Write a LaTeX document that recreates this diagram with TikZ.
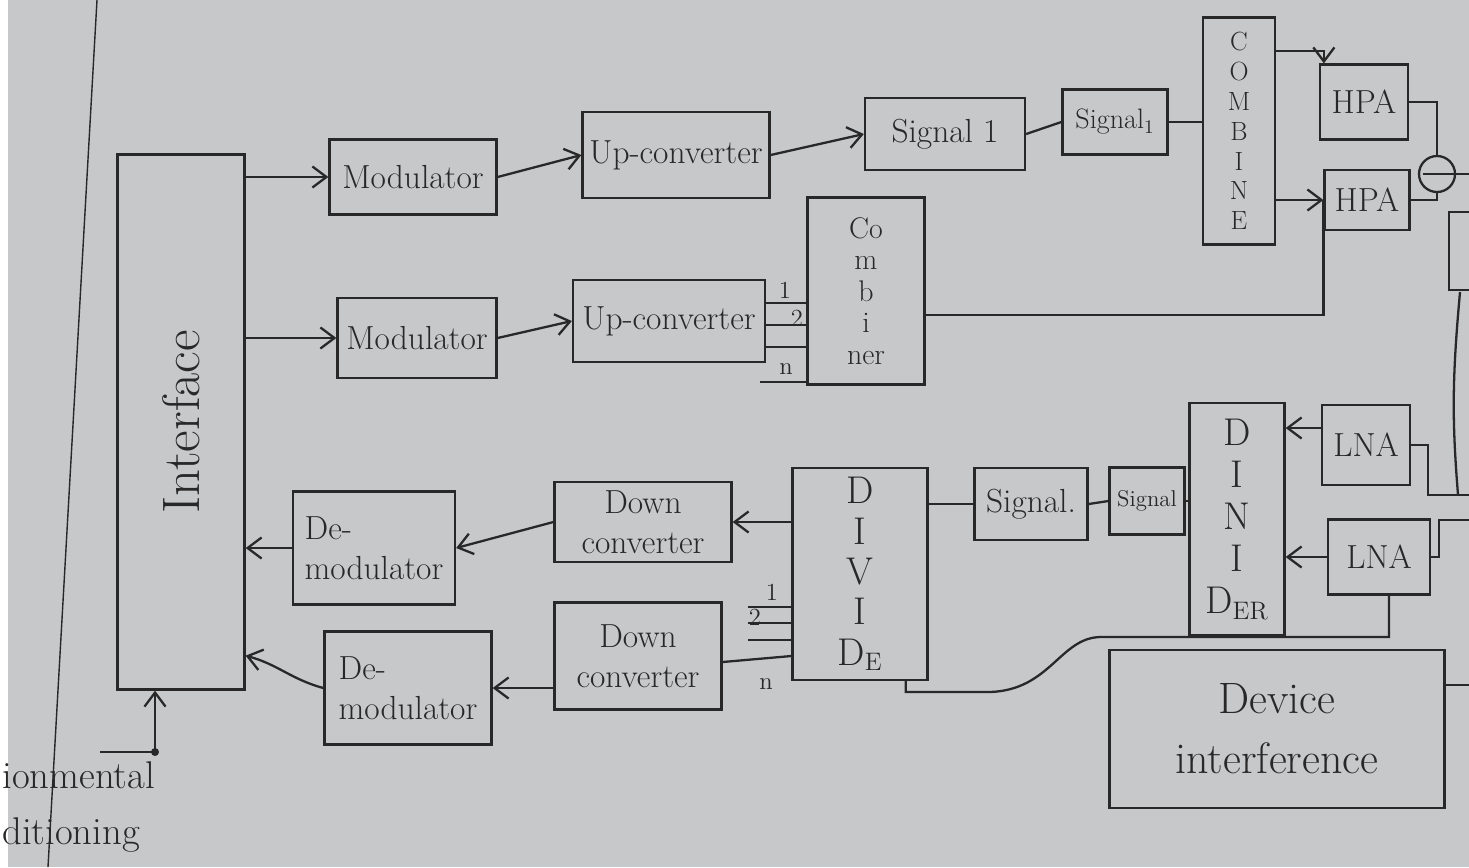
\documentclass[tikz,border=0pt]{standalone}
\usetikzlibrary{arrows.meta,positioning}
\definecolor{paper}{RGB}{199,200,202}
\definecolor{ink}{RGB}{40,40,40}
\tikzset{
  blk/.style={draw=ink,line width=1.3pt,inner sep=1pt,align=center,text=ink,font=\fontsize{19}{23}\selectfont},
  sz/.style 2 args={minimum width=#1*0.02cm,minimum height=#2*0.02cm},
  wire/.style={draw=ink,line width=1.3pt},
  arr/.style={wire,-{Straight Barb[length=8pt,width=12pt]}},
  tag/.style={text=ink,font=\fontsize{14}{16}\selectfont,inner sep=0pt},
}
\begin{document}
\begin{tikzpicture}[x=0.02cm,y=-0.02cm]
  \clip (0,0) rectangle (1469,867);
  \fill[paper] (0,0) rectangle (1469,867);
  \fill[white] (0,0) rectangle (8,867);
  \draw[ink,line width=0.8pt] (97,0) -- (48,867);

  % transmit side
  \node[blk,sz={127}{535}] (iface) at (181,422) {};
  \node[text=ink,rotate=90,font=\fontsize{30}{34}\selectfont] (ifacetxt) at (iface.center) {Interface};
  \node[blk,sz={167}{75}] (mod1) at (413,177) {Modulator};
  \node[blk,sz={187}{86}] (up1) at (676,155) {Up-converter};
  \node[blk,sz={160}{72}] (sig1) at (945,134) {Signal 1};
  \node[blk,sz={105}{65},font=\fontsize{16}{18}\selectfont] (sig1b) at (1115,122) {Signal$_1$};
  \node[blk,sz={72}{227},font=\fontsize{15}{17}\selectfont] (comb) at (1239,131) {C\\O\\M\\B\\I\\N\\E};
  \node[blk,sz={88}{75}] (hpa1) at (1364,102) {HPA};
  \node[blk,sz={85}{60}] (hpa2) at (1367,200) {HPA};
  \node[draw=ink,line width=1.3pt,circle,minimum size=36*0.02cm,inner sep=0pt] (circ) at (1437,174) {};
  \node[blk,sz={159}{80}] (mod2) at (417,338) {Modulator};
  \node[blk,sz={192}{82}] (up2) at (669,321) {Up-converter};
  \node[blk,sz={117}{187},font=\fontsize{17}{18}\selectfont] (combr) at (866,291) {Co\\m\\b\\i\\ner};

  \draw[arr] (mod1.west -| iface.east) -- (mod1.west);
  \draw[arr] (mod1.east) -- (up1.west);
  \draw[arr] (up1.east) -- (sig1.west);
  \draw[wire] (sig1.east) -- (sig1b.west);
  \draw[wire] (sig1b.east) -- (sig1b.east -| comb.west);
  \draw[arr] ([yshift=-0.69cm]comb.north east) -| ([xshift=0.1cm]hpa1.north west);
  \draw[arr] (hpa2.west -| comb.east) -- (hpa2.west);
  \draw[wire] ([yshift=-0.48cm]combr.east) -| (hpa2.west);
  \draw[wire] (hpa1.east) -| (circ.north);
  \draw[wire] (hpa2.east) -| (circ.south);
  \draw[wire] ([xshift=0.1cm]circ.west) -- ++(50,0);
  \draw[arr] (mod2.west -| iface.east) -- (mod2.west);
  \draw[arr] (mod2.east) -- (up2.west);
  \foreach \yy in {303,325,347}
    \draw[wire] (up2.east |- 0,\yy) -- (combr.west |- 0,\yy);
  \coordinate (nup) at (760,382);
  \draw[wire] (nup) -- (nup -| combr.west);
  \node[tag] (upa) at (785,290) {1};
  \node[tag] (upb) at (797,318) {2};
  \node[tag] (upn) at (786,369) {n};

  % off-page parts on the right
  \draw[wire] (1480,212) -- (1449,212) -- (1449,290) -- (1480,290);
  \draw[wire] (1460,292) .. controls (1452,380) and (1452,420) .. (1458,495);

  % receive side
  \node[blk,sz={135}{212},font=\fontsize{22}{23}\selectfont] (div) at (860,574) {D\\I\\V\\I\\D$_{\mathrm{E}}$};
  \node[blk,sz={177}{80}] (down1) at (643,522) {Down\\converter};
  \node[blk,sz={162}{113},align=left] (demod1) at (374,548) {De-\\modulator};
  \node[blk,sz={167}{107}] (down2) at (638,656) {Down\\converter};
  \node[blk,sz={167}{113},align=left] (demod2) at (408,688) {De-\\modulator};
  \node[blk,sz={113}{72}] (sig2) at (1031,504) {Signal.};
  \node[blk,sz={75}{67},font=\fontsize{13}{15}\selectfont] (sig2b) at (1147,501) {Signal};
  \node[blk,sz={95}{232},font=\fontsize{22}{24}\selectfont] (divr) at (1237,519) {D\\I\\N\\I\\D$_{\mathrm{ER}}$};
  \node[blk,sz={88}{80}] (lna1) at (1366,445) {LNA};
  \node[blk,sz={102}{75}] (lna2) at (1379,557) {LNA};
  \node[blk,sz={335}{158},font=\fontsize{25}{34}\selectfont] (devif) at (1277,729) {Device\\interference};

  \draw[arr] (down1.east -| div.west) -- (down1.east);
  \draw[arr] (down1.west) -- (demod1.east);
  \draw[arr] (demod1.west) -- (demod1.west -| iface.east);
  \draw[arr] (demod2.east -| down2.west) -- (demod2.east);
  \draw[arr] (demod2.west) to[out=165,in=-15] ([yshift=0.7cm]iface.south east);
  \foreach \yy in {607,623,640}
    \draw[wire] (748,\yy) -- (div.west |- 0,\yy);
  \draw[wire] (down2.east |- 0,662) -- (div.west |- 0,656);
  \node[tag] (dna) at (772,592) {1};
  \node[tag] (dnb) at (755,617) {2};
  \node[tag] (dnn) at (766,684) {n};
  \draw[wire] (sig2.west -| div.east) -- (sig2.west);
  \draw[wire] (sig2.east) -- (sig2b.west);
  \draw[wire] (sig2b.east) -- (sig2b.east -| divr.west);
  \coordinate (lnaout) at ([yshift=0.34cm]lna1.west);
  \draw[arr] (lnaout) -- (lnaout -| divr.east);
  \draw[arr] (lna2.west) -- (lna2.west -| divr.east);
  \coordinate (edgeA) at (1475,495);
  \coordinate (edgeB) at (1475,520);
  \draw[wire] (lna1.east) -- ++(17,0) |- (edgeA);
  \draw[wire] (lna2.east) -- ++(8,0) |- (edgeB);
  \draw[wire] ([xshift=0.2cm]lna2.south) |- (1100,637) .. controls (1060,638) and (1050,690) .. (990,692) -| ([xshift=-0.46cm]div.south east);
  \draw[wire] ([yshift=0.88cm]devif.east) -- ++(30,0);

  % environmental input
  \node[text=ink,anchor=west,inner sep=0pt,font=\fontsize{22}{26}\selectfont] (envA) at (2,775) {ionmental};
  \node[text=ink,anchor=west,inner sep=0pt,font=\fontsize{22}{26}\selectfont] (envB) at (2,835) {ditioning};
  \coordinate (envin) at (100,752);
  \coordinate (envtop) at ([xshift=-0.52cm]iface.south);
  \coordinate (envdot) at (envtop |- envin);
  \draw[wire] (envin) -- (envdot);
  \draw[arr] (envdot) -- (envtop);
  \fill[ink] (envdot) circle (4);
\end{tikzpicture}
\end{document}
